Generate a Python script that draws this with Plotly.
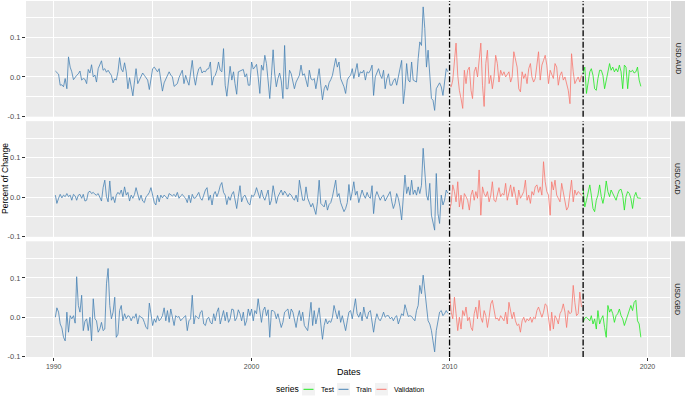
import pandas as pd
import plotly.graph_objects as go
from plotly.subplots import make_subplots

# facet labels and period starts (monthly data)
pairs = ["USD.AUD", "USD.CAD", "USD.GBD"]
series_names = ["Test", "Train", "Validation"]
train_start = "1990-02-01"
val_start = "2010-01-01"
test_start = "2016-10-01"
split_dates = ["2010-01-01", "2016-10-01"]

year_ticks = ["1990-01-01", "2000-01-01", "2010-01-01", "2020-01-01"]
year_labels = ["1990", "2000", "2010", "2020"]
year_minor = ["1995-01-01", "2005-01-01", "2015-01-01"]
y_ticks = [-0.1, 0.0, 0.1]
y_labels = ["-0.1", "0.0", "0.1"]
y_minor = [-0.05, 0.05, 0.15]

# ---- USD.AUD ----
aud_train = [
    .015, .012, .007, -.021, -.020, -.025, -.004, -.030, .051, .025, .013,
    -.007, .000, .004, .008, .015, -.008, -.004, -.006, -.017, .019, .010, .031,
    .000, .005, -.013, .021, .030, .041, .017, .021, .012, .017, .010, .004,
    -.015, -.005, -.008, .013, .049, .020, .013, .036, .013, -.030, -.002, -.021,
    -.048, -.010, .021, -.017, -.008, .005, .010, .004, -.002, -.008, -.032, -.005,
    .021, .025, .018, .013, .021, -.013, -.036, -.015, -.004, .004, .013, .005,
    .000, -.024, -.020, -.017, -.002, .008, .017, -.017, .004, -.010, -.021, .010,
    .042, .000, -.021, .005, .021, .025, .010, .015, .013, .020, .021, .038,
    -.021, .000, .004, .017, .038, .017, .013, .072, -.021, -.049, -.017, .027,
    -.008, .013, -.017, -.044, .013, .015, .017, .019, .000, .008, -.021, -.021,
    .038, .020, .025, .032, .000, -.042, .030, .017, .055, .034, -.010, -.055,
    .004, .069, .010, -.025, -.004, .010, -.010, -.055, .080, -.030, -.030, .017,
    .008, -.010, -.030, -.013, -.002, .004, .030, .004, .008, -.010, -.025, .017,
    -.005, -.008, -.004, -.030, .000, .021, -.021, -.058, -.030, -.021, -.034, -.015,
    -.007, .004, .025, .047, .025, .038, -.004, -.015, -.025, -.042, -.008, .000,
    .004, .021, -.004, .015, .034, .000, .013, .010, .017, -.008, .013, .010,
    .017, .030, -.047, .000, .013, .021, .005, -.004, .017, -.030, -.005, .008,
    -.021, -.021, -.010, -.004, -.021, .004, .020, .042, -.068, -.030, .034, -.008,
    -.013, .038, -.008, -.010, -.013, .047, .089, .080, .178, .123, .025, .068,
    -.008, -.055, -.059, -.085, -.030, -.021, -.015, -.025, -.047, -.013, .021, .013,
]
aud_val = [
    -.021, -.025, -.008, .042, .086, .004, -.034, -.055, -.080, .017, -.017, .017,
    .025, -.034, -.055, .013, .025, .000, .051, .086, -.021, -.075, .034, .068,
    -.017, .004, -.030, .000, .055, .034, -.013, .017, .004, .013, .000, .008,
    .013, -.013, .000, .064, .047, .025, -.030, -.038, .013, -.004, .008, -.017,
    .021, .034, .000, -.013, -.004, .025, .064, -.008, .030, .042, .055, .030,
    -.017, .017, .008, -.004, .034, .025, -.021, .004, .013, -.008, .000, -.017,
    -.034, -.068, .059, .013, -.017, -.008, .000, -.013, .004,
]
aud_test = [
    .010, .025, -.042, -.013, .013, .021, .004, -.030, -.034, -.004, .017, .017,
    .004, -.030, -.008, .013, .034, .017, .025, .013, .021, .013, .030, .013,
    -.030, .030, .025, -.030, .017, .013, .017, .010, .013, .025, -.008, -.024,
]

# ---- USD.CAD ----
cad_train = [
    .005, -.016, -.003, .007, -.002, .005, .001, .009, .001, .005, -.008,
    .007, .003, -.008, .005, .007, -.003, .007, -.010, -.008, .012, .015, .009,
    .012, .007, .005, .009, -.002, -.010, .024, .043, .001, -.012, .041, -.008,
    .001, -.014, .005, .012, .007, .018, .001, .026, .005, .012, -.010, .005,
    -.003, .007, .024, .005, -.008, .005, -.010, -.014, .001, .005, .012, .024,
    .005, -.014, -.020, .005, -.012, .005, -.002, .005, .001, -.005, .009, .007,
    .003, .007, .001, .012, -.003, .003, .007, .001, -.003, -.014, .005, -.014,
    .007, -.003, -.002, .005, .012, -.003, -.008, .005, .018, .024, -.008, .005,
    -.020, .007, .014, .001, .012, .029, .037, .012, .005, -.019, .001, -.008,
    .007, .014, -.008, -.029, .001, .029, -.012, .001, .005, -.008, -.016, -.020,
    .005, .001, .009, .024, .009, -.003, .018, .001, -.008, .005, .018, -.020,
    -.008, .029, .005, -.016, .001, .012, .018, .005, .015, .009, .001, .009,
    .005, -.003, -.008, .005, -.012, .043, .018, -.008, -.008, .026, -.003, -.012,
    -.025, -.016, -.029, -.044, -.012, .043, -.016, -.020, -.025, -.008, -.033, -.019,
    -.014, .001, .026, .043, .001, .009, -.014, -.025, -.037, -.029, -.014, .032,
    -.008, .014, .039, .005, .015, -.014, .001, .018, .005, -.003, .012, .001,
    -.003, .029, -.042, .001, .014, .005, -.008, .001, .005, -.010, -.003, .005,
    .014, -.012, -.029, -.016, .009, -.003, -.025, -.058, -.003, .056, .009, .026,
    .005, .043, .007, .018, .005, .026, .009, .030, .124, .064, .005, -.008,
    .035, -.046, -.067, -.084, .060, -.042, -.067, .005, -.020, -.008, .018, .010,
]
cad_val = [
    -.033, -.016, .031, .014, -.012, .039, -.025, .005, -.031, .009, .001, -.008,
    -.033, .005, .018, -.008, .014, -.003, .069, -.046, .026, .009, .001, .014,
    -.012, .005, .039, -.008, -.012, .005, .024, .001, .009, .005, .035, -.008,
    .014, .031, .001, .026, .005, -.020, .018, -.003, .005, .014, .043, -.008,
    .005, -.016, .014, .005, .026, .031, .012, .026, .005, .090, .039, .014,
    .005, -.046, .039, .018, .043, .005, -.003, -.012, .035, .009, -.012, -.033,
    -.025, .005, .043, -.012, .018, .005, .014, .010, .004,
]
cad_test = [
    .022, -.025, -.008, .014, .031, .005, -.029, -.037, -.008, .005, .031, .001,
    -.016, .005, .041, .014, .001, .018, .009, .001, -.008, .007, .018, .020,
    .005, -.033, .001, .014, .009, -.003, -.029, .001, .012, -.002, -.003, -.003,
]

# ---- USD.GBD ----
gbd_train = [
    .000, .024, .013, -.017, -.027, -.051, -.060, .013, -.038, .004, -.004,
    .004, -.015, .103, .030, .013, .056, -.034, -.010, -.004, -.034, .000, -.060,
    .047, -.004, -.009, -.038, -.030, -.013, -.034, -.030, .085, .124, .030, -.004,
    .013, .051, -.051, -.043, .017, .030, -.009, .009, -.004, .004, .002, -.009,
    .002, -.002, .009, -.017, .004, .000, -.002, -.013, -.026, -.030, .036, .009,
    -.021, -.004, -.013, .004, -.009, -.004, .004, .024, -.009, .017, -.013, .021,
    -.004, -.021, .004, .000, .002, -.009, -.004, .000, .004, -.034, -.009, -.004,
    .056, -.017, .004, .000, -.004, .013, .017, -.017, -.021, -.004, .000, -.013,
    -.017, .009, -.009, .013, .024, -.017, .004, .017, -.009, .013, -.013, -.004,
    .021, .019, -.009, -.002, .019, .009, -.009, .013, -.021, -.009, .021, .004,
    .021, -.009, .017, .009, .047, .013, -.013, .017, .026, .004, .019, -.051,
    .017, .017, .013, -.004, .009, -.009, -.026, -.013, .013, .017, .021, -.004,
    .021, .013, -.009, -.026, .000, .017, -.009, .013, -.021, -.026, -.034, .000,
    .038, -.021, .017, -.017, .004, .024, -.017, -.056, -.021, -.004, -.017, -.009,
    -.013, .000, .030, .009, -.004, .017, -.013, .004, -.021, -.034, -.009, .013,
    .017, -.004, .021, .047, .009, .000, .013, -.009, .026, .004, -.004, .013,
    .017, -.009, -.038, -.009, .009, -.004, -.009, .000, .013, .000, .004, .004,
    -.004, .000, -.009, .000, .004, -.017, -.004, .009, .004, .032, .017, .002,
    .004, .002, -.004, -.009, .017, .030, .081, .060, .107, .068, .030, -.009,
    -.017, -.034, -.060, -.088, -.034, -.009, .013, .017, .004, .009, .017, .010,
]
gbd_val = [
    .060, .013, -.004, .051, .009, -.034, .000, -.030, .017, .004, .026, -.009,
    .000, -.026, -.034, .009, .026, -.004, .043, .000, -.013, .017, .004, -.026,
    .000, .034, .043, .017, -.004, -.002, -.009, .004, -.004, -.009, .013, -.017,
    .038, .009, -.004, .013, -.009, -.021, -.017, -.038, -.009, .000, -.013, -.004,
    -.009, .000, -.013, .000, -.004, .017, .026, .013, .000, .013, .034, .030,
    -.004, -.034, .013, -.030, .004, -.004, -.017, .009, .017, .034, .013, -.026,
    .017, .009, .013, .081, .038, .004, .009, .064, .026,
]
gbd_test = [
    -.013, -.002, .000, -.004, -.009, .004, -.017, -.004, -.030, .017, -.017, -.004,
    .004, -.026, -.051, .030, .013, .021, .009, -.013, .004, .009, .021, .004,
    -.004, -.021, -.009, .004, .017, .030, .017, .038, .043, -.009, -.017, -.051,
]

data = {
    "USD.AUD": {"Train": aud_train, "Validation": aud_val, "Test": aud_test},
    "USD.CAD": {"Train": cad_train, "Validation": cad_val, "Test": cad_test},
    "USD.GBD": {"Train": gbd_train, "Validation": gbd_val, "Test": gbd_test},
}
starts = {"Train": train_start, "Validation": val_start, "Test": test_start}
colors = {"Train": "#4682B4", "Validation": "#F8766D", "Test": "#1EE81E"}

FONT = "Liberation Sans, Arial, sans-serif"

# pixel helpers for the page furniture (plot area: x 26..670, y 1..357)
L, R, T, B = 26, 670, 1, 357
def px(x):
    return (x - L) / (R - L)
def py(y):
    return (B - y) / (B - T)

def label(text, x, y, size, color="black", angle=0, xanchor="center"):
    fig.add_annotation(text=text, xref="paper", yref="paper", x=x, y=y,
                       xanchor=xanchor, yanchor="middle", textangle=angle,
                       showarrow=False,
                       font=dict(family=FONT, size=size, color=color))

fig = make_subplots(rows=3, cols=1, shared_xaxes=True, vertical_spacing=0.0126)

for i, pair in enumerate(pairs, start=1):
    for name in ["Train", "Validation", "Test"]:
        vals = data[pair][name]
        dates = pd.date_range(starts[name], periods=len(vals), freq="MS")
        fig.add_trace(go.Scatter(x=dates, y=vals, mode="lines", name=name,
                                 legendgroup=name, showlegend=False,
                                 line=dict(color=colors[name], width=0.8)),
                      row=i, col=1)
    for d in split_dates:
        fig.add_vline(x=d, line=dict(color="black", width=1.3,
                                     dash="6px,2px,1.5px,2px"),
                      row=i, col=1)

    # facet strip on the right, in paper coordinates
    yaxis = fig.layout["yaxis" if i == 1 else f"yaxis{i}"]
    y0, y1 = yaxis.domain
    fig.add_shape(type="rect", xref="paper", yref="paper",
                  x0=px(671), x1=px(686), y0=y0, y1=y1,
                  fillcolor="#D9D9D9", line_width=0)
    label(pair, px(678), (y0 + y1) / 2, 7, "#1A1A1A", angle=90)

fig.update_xaxes(type="date", range=["1988-08-08", "2021-02-20"],
                 tickvals=year_ticks, ticktext=year_labels,
                 showgrid=True, gridcolor="white", gridwidth=1,
                 minor=dict(tickvals=year_minor, showgrid=True,
                            gridcolor="white", gridwidth=0.5),
                 ticks="", tickfont=dict(family=FONT, size=7, color="#4D4D4D"),
                 zeroline=False, showline=False, automargin=False)
# only the bottom facet carries the x axis ticks
fig.update_xaxes(ticks="outside", ticklen=3, tickcolor="#333333", row=3, col=1)
fig.update_yaxes(range=[-0.101, 0.193], tickvals=y_ticks, ticktext=y_labels,
                 showgrid=True, gridcolor="white", gridwidth=1,
                 minor=dict(tickvals=y_minor, showgrid=True,
                            gridcolor="white", gridwidth=0.5),
                 ticks="outside", ticklen=3, tickcolor="#333333",
                 tickfont=dict(family=FONT, size=7.5, color="#4D4D4D"),
                 zeroline=False, showline=False, automargin=False)

# axis titles
label("Percent of Change", px(5), 0.5, 8.5, angle=-90)
label("Dates", px(349), py(372), 9)

# legend drawn like ggplot's bottom legend
label("series", px(274), py(389.5), 8.5, xanchor="left")
key_left = {"Test": 302, "Train": 337, "Validation": 375}
label_left = {"Test": 319, "Train": 354, "Validation": 392}
for name in series_names:
    k = key_left[name]
    fig.add_shape(type="rect", xref="paper", yref="paper",
                  x0=px(k), x1=px(k + 13), y0=py(395.5), y1=py(383),
                  fillcolor="#F2F2F2", line_width=0)
    fig.add_shape(type="line", xref="paper", yref="paper",
                  x0=px(k + 1.5), x1=px(k + 11.5), y0=py(389.3), y1=py(389.3),
                  line=dict(color=colors[name], width=1))
    label(name, px(label_left[name]), py(389.5), 7, xanchor="left")

fig.update_layout(width=685, height=396, showlegend=False,
                  margin=dict(l=L, r=685 - R, t=T, b=396 - B, autoexpand=False),
                  plot_bgcolor="#EBEBEB", paper_bgcolor="white",
                  font=dict(family=FONT))

fig.write_html("out.html", config={"displayModeBar": False},
               post_script="document.body.style.margin='0';")
